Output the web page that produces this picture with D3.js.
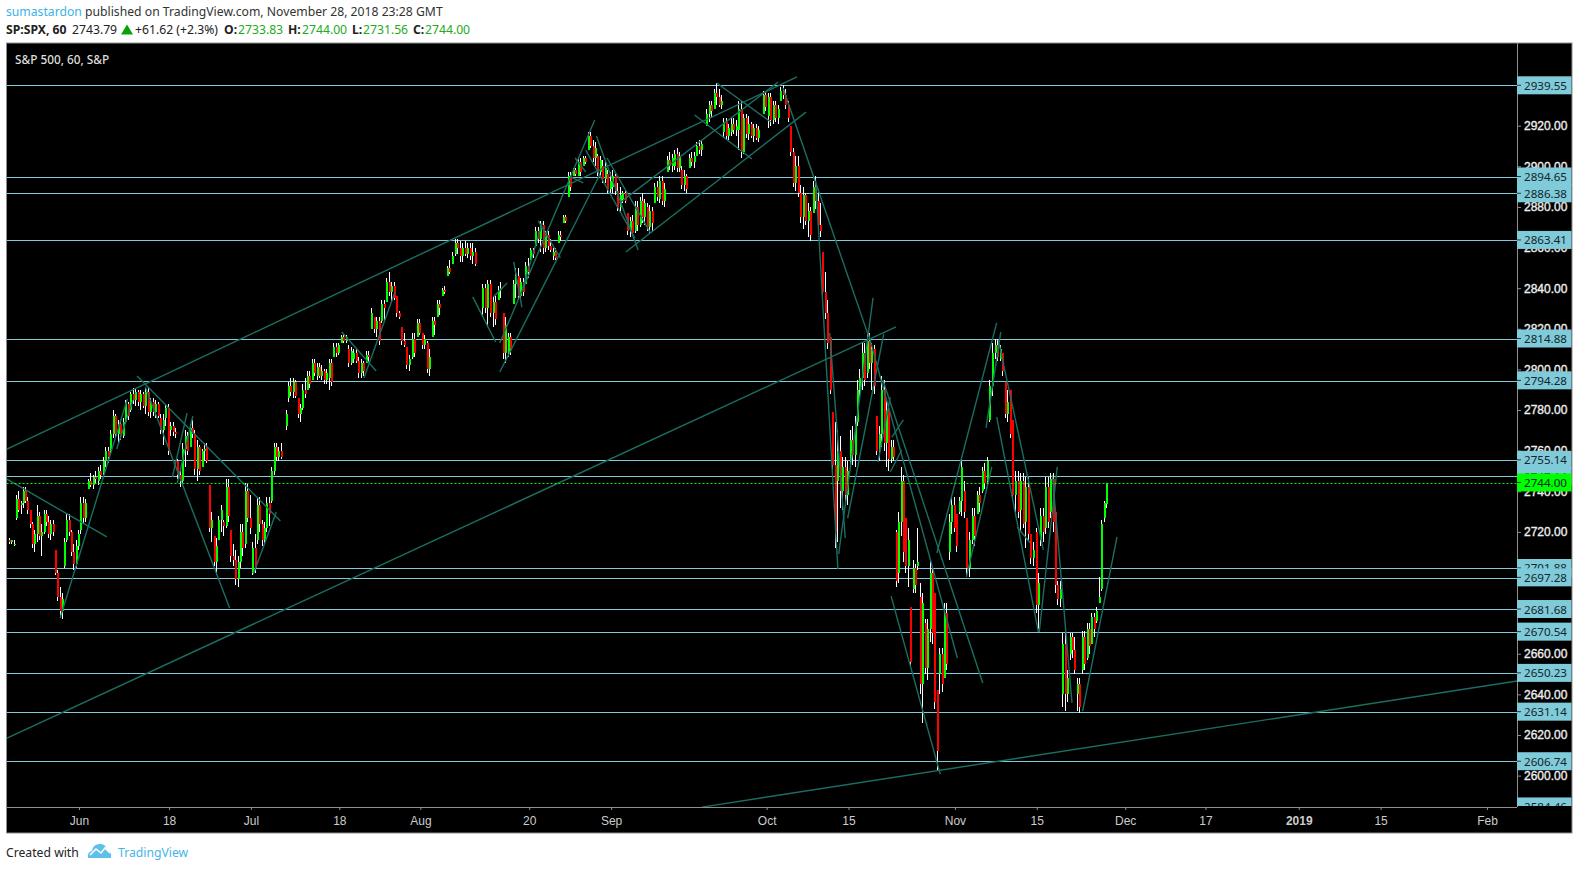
<!DOCTYPE html>
<html><head><meta charset="utf-8">
<script src="https://cdnjs.cloudflare.com/ajax/libs/d3/7.8.5/d3.min.js"></script>
<style>html,body{margin:0;padding:0;background:#fff;overflow:hidden}svg{display:block}</style>
</head><body><svg id="c" width="1579" height="870"></svg>
<script>
// hourly bars [open, high, low, close], grouped by the stretch between two date ticks; null = no bar visible
const barsLateMay=[[2716,2717,2714,2715],[2715,2716,2714,2716],[2714,2716,2713,2714],[2727,2738,2726,2736],[2736,2740,2730,2731],[2733,2735,2729,2734],[2734,2742,2732,2740],[2740,2742,2734,2735],[2735,2737,2729,2731],[2731,2731,2722,2724],[2724,2725,2712,2714],[2714,2721,2710,2719],[2719,2733,2715,2728],[2728,2730,2716,2718],[2718,2724,2708,2720],[2720,2731,2719,2729],[2729,2731,2723,2725],[2725,2728,2717,2719],[2719,2726,2716,2724],[2724,2726,2718,2720],[2711,2711,2699,2700],[2700,2701,2686,2688],[2688,2693,2678,2681],[2681,2690,2677,2687],[2703,2717,2702,2715],[2716,2729,2715,2726],[2726,2729,2718,2720],[2720,2721,2708,2710],[2710,2714,2701,2704],[2704,2716,2702,2713],[2713,2721,2711,2719]];
const barsEarlyJun=[[2721,2737,2719,2734],[2734,2737,2724,2727],[2727,2736,2725,2734],[2741,2746,2741,2745],[2745,2749,2742,2743],[2743,2748,2741,2747],[2747,2750,2744,2746],[2745,2752,2743,2750],[2750,2753,2746,2748],[2749,2757,2748,2755],[2755,2762,2752,2760],[2760,2762,2754,2757],[2760,2770,2759,2768],[2768,2780,2766,2777],[2777,2778,2766,2768],[2768,2775,2764,2773],[2773,2775,2765,2767],[2767,2776,2766,2774],[2774,2785,2773,2783],[2783,2784,2775,2777],[2780,2789,2779,2788],[2788,2791,2783,2785],[2785,2791,2782,2789],[2789,2790,2782,2784],[2784,2790,2780,2788],[2788,2789,2781,2782],[2782,2791,2778,2789],[2789,2791,2777,2779],[2779,2786,2776,2784],[2784,2786,2777,2779],[2779,2785,2776,2783],[2783,2784,2776,2777],[2776,2778,2768,2770],[2770,2778,2763,2775],[2776,2783,2772,2781],[2781,2783,2758,2760]];
const barsLateJun=[[2770,2774,2767,2772],[2772,2774,2767,2769],[2769,2771,2766,2768],[2755,2756,2746,2748],[2748,2750,2742,2745],[2745,2764,2744,2761],[2761,2770,2752,2767],[2767,2769,2758,2760],[2762,2773,2762,2771],[2771,2775,2766,2768],[2768,2770,2748,2751],[2751,2765,2745,2762],[2762,2763,2748,2750],[2752,2761,2752,2760],[2760,2764,2755,2761],[2762,2764,2754,2755],[2743,2743,2720,2722],[2722,2730,2715,2726],[2718,2718,2703,2705],[2705,2717,2699,2713],[2716,2728,2716,2726],[2726,2733,2720,2731],[2725,2726,2718,2723],[2723,2746,2722,2742],[2742,2746,2725,2728],[2721,2721,2705,2708],[2708,2714,2703,2706],[2706,2711,2694,2697],[2697,2708,2693,2705],[2705,2724,2702,2720],[2720,2724,2708,2712],[2714,2744,2712,2740],[2740,2744,2725,2727],[2727,2738,2719,2722]];
const barsEarlyJul=[[2700,2715,2699,2712],[2712,2719,2700,2702],[2716,2737,2714,2733],[2733,2737,2720,2724],[2724,2726,2713,2716],[2716,2725,2714,2722],[2722,2737,2720,2734],[2734,2737,2723,2729],[2735,2752,2734,2750],[2750,2764,2748,2762],[2762,2764,2755,2757],[2757,2762,2755,2760],[2760,2764,2756,2757],null,[2772,2780,2770,2778],[2786,2794,2784,2792],[2792,2796,2787,2789],[2789,2796,2786,2794],[2794,2795,2786,2787],[2786,2786,2776,2778],[2778,2783,2774,2781],[2781,2793,2780,2790],[2790,2796,2786,2788],[2790,2799,2790,2797],[2797,2799,2791,2793],[2795,2805,2795,2803],[2803,2805,2797,2798],[2797,2803,2795,2801],[2801,2803,2796,2797],[2797,2802,2795,2799],[2799,2800,2793,2795],[2795,2800,2793,2798],[2796,2805,2790,2803],[2803,2805,2792,2794],[2806,2813,2806,2811],[2811,2813,2806,2808],[2808,2813,2807,2812]];
const barsLateJul=[[2813,2817,2813,2816],[2816,2817,2813,2814],[2814,2817,2813,2816],[2810,2812,2801,2803],[2803,2811,2802,2809],[2805,2810,2803,2808],[2808,2810,2803,2804],[2804,2806,2796,2798],[2798,2805,2796,2803],[2803,2804,2797,2799],[2803,2809,2803,2807],[2807,2809,2803,2806],[2820,2830,2820,2828],[2826,2826,2818,2820],[2820,2826,2816,2824],[2824,2826,2812,2814],[2824,2834,2823,2832],[2832,2834,2824,2830],[2833,2845,2833,2843],[2843,2848,2836,2838],[2838,2843,2833,2841],[2841,2843,2834,2835],[2836,2836,2826,2828],[2828,2829,2825,2826],[2821,2821,2812,2814],[2814,2818,2811,2812],[2811,2811,2800,2802],[2802,2807,2799,2805],[2806,2818,2805,2815],[2815,2818,2806,2808],[2816,2825,2816,2823],[2823,2825,2817,2818]];
const barsEarlyAug=[[2818,2818,2810,2812],[2812,2817,2810,2815],[2813,2814,2798,2800],[2800,2810,2797,2806],[2816,2826,2816,2824],[2824,2826,2817,2822],[2826,2834,2826,2832],[2832,2834,2827,2830],[2836,2840,2836,2839],[2839,2841,2837,2838],[2846,2851,2846,2850],[2850,2854,2847,2848],[2852,2858,2852,2856],[2857,2864,2856,2862],[2862,2864,2857,2860],[2860,2863,2853,2856],[2856,2862,2853,2860],[2860,2863,2856,2857],[2857,2862,2855,2860],[2860,2862,2854,2856],[2856,2862,2852,2858],[2858,2860,2851,2852],null,null,[2830,2842,2826,2840],[2840,2842,2828,2830],[2830,2844,2821,2842],[2842,2844,2826,2828],[2828,2836,2821,2833],[2833,2836,2822,2825],[2834,2841,2834,2839],[2839,2843,2835,2840],[2828,2828,2805,2808],[2808,2826,2803,2822],[2808,2818,2806,2816],[2816,2818,2807,2810],[2832,2844,2832,2842],[2842,2850,2835,2846],[2846,2850,2834,2836],[2836,2845,2834,2843],[2843,2845,2836,2838],[2842,2853,2842,2851],[2851,2855,2845,2848]];
const barsLateAug=[[2854,2860,2854,2859],[2859,2860,2855,2857],[2861,2870,2861,2868],[2868,2870,2862,2864],[2864,2873,2858,2871],[2871,2873,2857,2860],[2860,2868,2858,2866],[2866,2868,2859,2861],[2861,2864,2858,2859],[2856,2860,2854,2858],[2858,2860,2854,2855],[2862,2868,2862,2866],[2866,2868,2863,2865],[2872,2876,2872,2875],[2875,2876,2872,2873],[2885,2897,2885,2895],[2895,2897,2888,2890],[2895,2899,2895,2898],[2898,2899,2895,2896],[2895,2904,2895,2902],[2902,2904,2895,2897],[2900,2905,2900,2904],[2904,2905,2901,2902],[2908,2917,2908,2915],[2915,2917,2909,2910],[2910,2913,2902,2904],[2904,2912,2900,2909],[2905,2906,2895,2897],[2897,2905,2895,2903],[2900,2903,2892,2894],[2894,2902,2892,2899],[2896,2898,2887,2889],[2889,2897,2887,2893]];
const barsSep=[[2890,2898,2887,2895],[2895,2896,2886,2888],[2888,2892,2878,2880],[2880,2890,2877,2886],[2884,2888,2882,2887],[2887,2888,2882,2883],[2877,2877,2866,2868],[2868,2875,2865,2873],[2873,2876,2866,2867],[2868,2883,2867,2880],[2880,2883,2868,2871],[2871,2885,2870,2883],[2883,2887,2872,2875],[2875,2884,2871,2882],[2880,2882,2868,2870],[2870,2881,2867,2878],[2878,2880,2868,2872],[2882,2892,2882,2890],[2890,2893,2883,2885],[2884,2895,2882,2893],[2893,2895,2881,2883],[2883,2892,2880,2889],[2897,2905,2897,2903],[2903,2907,2898,2900],[2900,2906,2897,2904],[2900,2908,2898,2906],[2906,2909,2897,2899],[2899,2907,2897,2905],[2898,2900,2889,2891],[2891,2898,2888,2895],[2895,2896,2887,2889],[2899,2906,2899,2904],[2904,2907,2900,2902],[2902,2907,2899,2905],[2905,2912,2905,2910],[2910,2913,2906,2908],[2908,2913,2905,2911],null,[2920,2928,2920,2926],[2926,2932,2922,2930],[2930,2932,2924,2927],[2928,2938,2928,2936],[2936,2941,2930,2934],[2934,2938,2929,2930],[2930,2935,2928,2932],[2917,2924,2914,2922],[2922,2924,2913,2915],[2915,2921,2913,2919],[2917,2924,2915,2921],[2921,2924,2916,2918],[2918,2923,2915,2920],[2918,2932,2908,2928],[2928,2932,2904,2907],[2907,2926,2906,2924],[2924,2926,2914,2916],[2916,2925,2913,2921],[2921,2922,2914,2915],[2915,2921,2912,2919],[2919,2921,2913,2914],[2914,2920,2912,2918],null,[2926,2937,2926,2935],[2935,2937,2927,2929]];
const barsEarlyOct=[[2925,2936,2919,2934],[2934,2936,2920,2923],[2923,2932,2921,2930],[2930,2932,2922,2924],[2924,2930,2921,2928],[2932,2939,2932,2937],[2937,2940,2933,2935],[2935,2938,2928,2930],[2930,2932,2922,2924],[2920,2920,2905,2907],[2907,2909,2890,2892],[2892,2905,2888,2900],[2900,2905,2885,2887],[2887,2891,2872,2875],[2875,2890,2869,2886],[2886,2887,2871,2873],[2873,2882,2865,2878],[2878,2880,2863,2866],[2877,2893,2877,2890],[2890,2895,2879,2883],[2883,2889,2868,2871],[2871,2882,2865,2868],[2858,2858,2835,2838],[2838,2848,2825,2828],[2828,2834,2810,2813],[2816,2816,2788,2790],[2779,2779,2750,2753],[2753,2774,2712,2720],[2745,2770,2715,2760],[2760,2767,2732,2740],[2740,2757,2731,2752],[2752,2757,2735,2738],[2738,2755,2733,2750]];
const barsLateOct=[[2755,2770,2752,2765],[2765,2772,2753,2758],[2758,2777,2752,2773],[2774,2795,2772,2790],[2790,2800,2786,2796],[2796,2813,2790,2808],[2808,2813,2792,2795],[2798,2818,2796,2814],[2814,2818,2800,2803],[2803,2813,2790,2810],[2810,2812,2788,2792],[2777,2777,2758,2760],[2760,2772,2755,2768],[2768,2797,2762,2790],[2790,2795,2760,2764],[2764,2785,2752,2780],[2780,2783,2750,2756],[2756,2765,2754,2762],[2762,2765,2755,2757],[2720,2721,2693,2696],[2700,2730,2695,2725],[2725,2752,2718,2745],[2745,2748,2705,2710],[2727,2727,2700,2703],[2703,2722,2693,2716],[2683,2683,2654,2656],[2692,2706,2690,2702],[2702,2704,2690,2694],[2703,2722,2701,2705],[2688,2695,2640,2645],[2645,2690,2626,2685],[2675,2677,2650,2653],[2653,2677,2647,2672],[2672,2706,2666,2700],[2700,2702,2665,2670],[2690,2690,2633,2636],[2642,2642,2603,2612],[2650,2663,2640,2660],[2660,2663,2641,2645],[2648,2685,2648,2680],[2680,2685,2652,2655],[2710,2729,2706,2725],[2725,2737,2719,2733],[2733,2737,2720,2722]];
const barsEarlyNov=[[2729,2729,2710,2713],[2730,2737,2729,2735],[2735,2757,2728,2752],[2740,2745,2727,2730],[2727,2727,2699,2702],[2702,2720,2698,2716],[2716,2732,2714,2728],[2728,2732,2713,2718],[2729,2740,2729,2738],[2738,2742,2730,2734],[2740,2752,2739,2750],[2750,2754,2741,2744],[2745,2757,2744,2755],[2775,2795,2774,2792],[2792,2813,2787,2808],[2808,2815,2805,2812],[2812,2815,2804,2806],[2805,2812,2804,2810],[2808,2808,2797,2799],[2794,2794,2776,2778],[2778,2790,2774,2784],[2790,2790,2766,2768],[2775,2775,2736,2738],[2738,2750,2728,2745],[2745,2750,2727,2730],[2731,2749,2720,2745],[2745,2749,2722,2724],[2725,2747,2712,2742],[2742,2747,2716,2719],[2719,2719,2704,2707],[2707,2715,2703,2711],[2720,2722,2680,2684]];
const barsLateNov=[[2684,2700,2672,2695],[2716,2732,2713,2728],[2728,2732,2715,2720],[2722,2747,2719,2742],[2742,2747,2722,2725],[2730,2749,2727,2746],[2746,2749,2720,2725],[2730,2732,2690,2694],[2694,2696,2684,2687],[2687,2696,2683,2692],[2640,2670,2634,2665],[2665,2670,2632,2640],[2640,2652,2636,2648],[2660,2670,2657,2668],[2668,2670,2658,2662],[2662,2668,2650,2652],[2640,2648,2632,2645],[2645,2648,2631,2634],[2652,2671,2650,2668],[2668,2671,2652,2655],[2658,2675,2657,2672],[2672,2675,2660,2664],[2665,2680,2665,2678],[2678,2680,2668,2672],[2676,2683,2675,2681],[2685,2698,2685,2688],[2692,2726,2691,2724],[2727,2735,2725,2734],[2733.83,2744,2731.56,2744]];
const barGroups=[barsLateMay,barsEarlyJun,barsLateJun,barsEarlyJul,barsLateJul,barsEarlyAug,barsLateAug,barsSep,barsEarlyOct,barsLateOct,barsEarlyNov,barsLateNov];
const groupEdges=[-8.67,0,11,21,31.8,41.7,55,65,84,94,107,117,125.6]; // trading-session numbers

const dateTickSessions=[0,11,21,31.8,41.7,55,65,84,94,107,117,127.8,137.6,149,159,172];
const dateTickLabels=["Jun","18","Jul","18","Aug","20","Sep","Oct","15","Nov","15","Dec","17","2019","15","Feb"];
const priceTicks=[2600,2620,2640,2660,2680,2700,2720,2740,2760,2780,2800,2820,2840,2860,2880,2900,2920];
const levelValues=[2939.55,2584.46,2701.88,2747.14,2894.65,2886.38,2863.41,2814.88,2794.28,2755.14,2697.28,2681.68,2670.54,2650.23,2631.14,2606.74];
const lastPrice=2744.00;
// trend lines [session1, price1, session2, price2]
const trendLines=[[-8.8,2760.8,87.7,2944],[-8.8,2746,3.4,2717.5],[-2.3,2677.6,5.9,2785.4],[4.6,2760.8,6.6,2785],[7.1,2796.8,24.6,2725.4],[8.1,2791.3,18.4,2682.5],[11.4,2747,13.2,2778.5],[12,2744,13.9,2777],[21.3,2699.3,24.1,2729.8],[-8.8,2618.5,99.8,2820.9],[76.1,2584.5,175.7,2646.6],[32.1,2818.4,36.3,2799.2],[34.8,2795.8,38.6,2838.1],[48.1,2835.7,50.9,2813.5],[51.4,2798.7,63.6,2895.7],[51.4,2813,63,2922.8],[56.1,2873.1,58.8,2854.9],[53.1,2852.9,54.1,2830.7],[54.2,2840.1,56.6,2872.1],[50.6,2835.7,52.3,2842.6],[60.6,2904.1,61.9,2897.2],[60.1,2894.7,61.6,2891.8],[63.2,2914.9,68.3,2858.8],[61.9,2908,67.9,2864.7],[64.5,2904.1,69.8,2867.2],[66.8,2857.8,88.8,2926.7],[66,2881.9,85.4,2941.5],[77.9,2941,84.5,2921.8],[75.2,2925.3,82.2,2903.6],[86,2938.6,96.4,2817],[90,2892.8,92.7,2701.7],[92.8,2709.1,97,2835.2],[91.7,2818,93.6,2717],[93.9,2726.8,98.3,2817.4],[99.3,2766.7,100.7,2775.1],[99.1,2749.5,100.5,2760.3],[97.6,2754.4,99.1,2786.4],[96.4,2818,107.3,2657.9],[98.2,2794.8,110.4,2645.6],[99.2,2688.4,105.2,2600.8],[104.8,2709.6,112.1,2822.9],[108.4,2697.8,111.5,2752],[110.8,2771.2,112.6,2818.4],[112.1,2776.6,117.2,2670.7],[112.3,2814.5,117.8,2711.1],[114.6,2722.4,116.2,2714.5],[117.3,2670.7,119.5,2752],[118.9,2748,121.3,2635.8],[122.6,2631.8,126.8,2717.5]];

const L=6.5,R=1517,T=43,B=807,FR=1572,FB=833;
const UI='"Noto Sans",sans-serif', AX='"Liberation Sans",Arial,sans-serif';
const svg=d3.select('#c');
const x=d3.scaleLinear().domain([-8.857,175.66]).range([L,R]);
const y=d3.scaleLinear().domain([2920,2600]).range([125.7,775.6]);
const lvlY=v=>Math.floor(y(v))+.5;

svg.append('rect').attr('x',L).attr('y',T).attr('width',FR-L).attr('height',FB-T).attr('fill','#000').attr('stroke','#8f8f8f').attr('stroke-width',1);
svg.append('defs').html(`<clipPath id="plot"><rect x="${L}" y="${T}" width="${R-L}" height="${B-T}"/></clipPath><clipPath id="scale"><rect x="${R}" y="${T}" width="${FR-R}" height="${B-T-1}"/></clipPath>`);
const plot=svg.append('g').attr('clip-path','url(#plot)');

// levels
plot.selectAll('line.lvl').data(levelValues).join('line').attr('class','lvl')
 .attr('x1',L).attr('x2',R).attr('y1',lvlY).attr('y2',lvlY)
 .attr('stroke','#7fcbd9').attr('stroke-width',1);

// candles
const bars=[];
barGroups.forEach((g,k)=>{const s=d3.scaleLinear().domain([0,g.length]).range([groupEdges[k],groupEdges[k+1]]);
 g.forEach((b,i)=>{if(b)bars.push({s:s(i+.5),o:b[0],h:b[1],l:b[2],c:b[3]});});});
const cg=plot.append('g').attr('shape-rendering','crispEdges');
cg.selectAll('rect.w').data(bars).join('rect').attr('class','w')
 .attr('x',d=>Math.round(x(d.s))).attr('width',1).attr('y',d=>y(d.h)).attr('height',d=>Math.max(1,y(d.l)-y(d.h))).attr('fill','#fff');
cg.selectAll('rect.b').data(bars).join('rect').attr('class','b')
 .attr('x',d=>Math.round(x(d.s))).attr('width',2).attr('y',d=>y(Math.max(d.o,d.c))).attr('height',d=>Math.max(1,Math.abs(y(d.o)-y(d.c)))).attr('fill',d=>d.c>=d.o?'#00ff00':'#ff0000');

// trend lines
plot.selectAll('line.tr').data(trendLines).join('line').attr('class','tr')
 .attr('x1',d=>x(d[0])).attr('y1',d=>y(d[1])).attr('x2',d=>x(d[2])).attr('y2',d=>y(d[3]))
 .attr('stroke','#1a6f62').attr('stroke-width',1.4);

// last price line
plot.append('line').attr('x1',L).attr('x2',R).attr('y1',lvlY(lastPrice)).attr('y2',lvlY(lastPrice))
 .attr('stroke','#00ff00').attr('stroke-dasharray','2 2');

// axes
const yAxis=d3.axisRight(y).tickValues(priceTicks).tickFormat(d3.format('.2f')).tickSize(4).tickPadding(3);
const ga=svg.append('g').attr('transform',`translate(${R},0)`).call(yAxis);
ga.select('.domain').remove();
ga.selectAll('line').attr('stroke','#8f8f8f');
ga.selectAll('text').attr('fill','#eee').attr('stroke','#eee').attr('stroke-width',.35).style('font',`12px ${AX}`);
const xAxis=d3.axisBottom(x).tickValues(dateTickSessions).tickFormat((d,i)=>dateTickLabels[i]).tickSize(3).tickPadding(6);
const gx=svg.append('g').attr('transform',`translate(0,${B})`).call(xAxis);
gx.select('.domain').remove();
gx.selectAll('line').attr('stroke','#8f8f8f');
gx.selectAll('text').attr('fill','#ccc').style('font',`12px ${AX}`).style('font-weight',(d,i)=>dateTickLabels[i]==='2019'?'bold':'normal');
svg.append('line').attr('x1',R+.5).attr('x2',R+.5).attr('y1',T).attr('y2',B).attr('stroke','#8f8f8f');
svg.append('line').attr('x1',L).attr('x2',R).attr('y1',B+.5).attr('y2',B+.5).attr('stroke','#8f8f8f');

// price labels
const sc=svg.append('g').attr('clip-path','url(#scale)');
function tag(v,bg){const g=sc.append('g').attr('transform',`translate(0,${y(v)-.7})`);
 g.append('rect').attr('x',R).attr('y',-9).attr('width',FR-R-.5).attr('height',18).attr('fill',bg);
 g.append('line').attr('x1',R).attr('x2',R+4).attr('stroke','#333');
 g.append('text').attr('x',R+7).attr('y',4.5).attr('fill','#14242a').style('font',`11.6px ${UI}`).text(d3.format('.2f')(v));}
levelValues.forEach(v=>tag(v,'#7fcbd9'));
tag(lastPrice,'#00ff00');

// chart title
svg.append('text').attr('x',15).attr('y',64).attr('fill','#ddd').style('font',`500 11.8px ${UI}`).text('S&P 500, 60, S&P');

// header
const h1=svg.append('text').attr('x',6).attr('y',16).style('font',`12.2px ${UI}`).attr('fill','#333');
h1.append('tspan').attr('fill','#3eb2e6').text('sumastardon');
h1.append('tspan').text(' published on TradingView.com, November 28, 2018 23:28 GMT');
const G='#22ab22',K='#222';
[[6,'SP:SPX, 60',K,1],[72,'2743.79',K,0],[135,'+61.62 (+2.3%)',K,0],[224,'O:',K,1],[238,'2733.83',G,0],[288,'H:',K,1],[302,'2744.00',G,0],[352,'L:',K,1],[363,'2731.56',G,0],[413,'C:',K,1],[425,'2744.00',G,0]]
 .forEach(([a,t,c,b])=>svg.append('text').attr('x',a).attr('y',34).attr('fill',c).style('font',`${b?'bold ':''}12.2px ${UI}`).text(t));
svg.append('path').attr('d','M121 34.5 L127 24.5 L133 34.5 Z').attr('fill','#0aa00a');

// footer
svg.append('text').attr('x',6).attr('y',857).attr('fill','#222').style('font',`12.2px ${UI}`).text('Created with');
svg.append('text').attr('x',118).attr('y',857).attr('fill','#45b5e8').style('font',`12.2px ${UI}`).text('TradingView');
svg.append('path').attr('d','M88 858 Q87 852 92 851 Q93 844 100 844 Q105 843 107 850 Q112 851 111 858 Z').attr('fill','#5cc0ea');
svg.append('path').attr('d','M90 855 L96 849 L101 853 L105 848 L110 853').attr('fill','none').attr('stroke','#fff').attr('stroke-width',1.6);
</script></body></html>
